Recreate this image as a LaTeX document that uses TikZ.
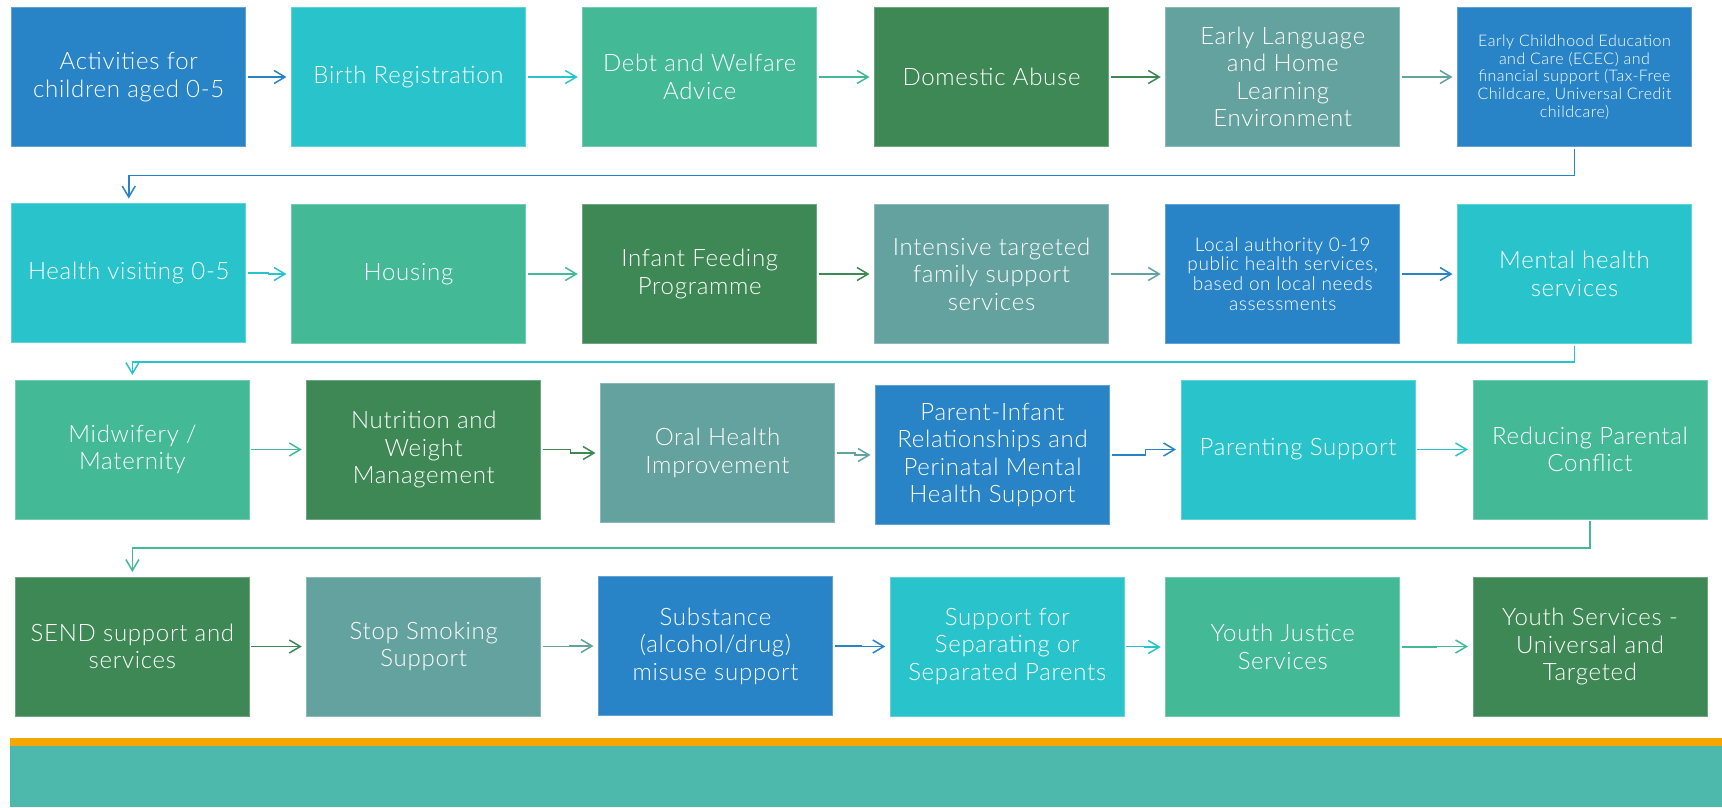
\documentclass[tikz,border=0pt]{standalone}
\usepackage{fontspec}
\setmainfont{Lato}[UprightFont=* Light, LetterSpace=3]
\usetikzlibrary{arrows.meta,calc}

\definecolor{cBlue}{HTML}{2884C6}
\definecolor{cCyan}{HTML}{29C4CB}
\definecolor{cLgreen}{HTML}{44B996}
\definecolor{cDgreen}{HTML}{3E8855}
\definecolor{cGteal}{HTML}{64A29F}
\definecolor{cOrange}{HTML}{F5A700}
\definecolor{cBand}{HTML}{4CB9AC}

\tikzset{
  svcbox/.style={rectangle, fill=#1, draw=#1!75!white, line width=0.8pt,
    minimum width=234pt, minimum height=139pt, inner sep=3pt, outer sep=0pt,
    text=white, align=center, font=\fontsize{24}{27.5}\selectfont},
  smalltext/.style={font=\fontsize{16}{17.7}\selectfont},
  midtext/.style={font=\fontsize{19}{19.7}\selectfont},
  flow/.style={draw=#1, line width=1.5pt,
    -{Straight Barb[length=11pt,width=13pt,line width=1.5pt]},
    shorten <=2pt, shorten >=5pt},
}

\newcommand{\jog}[3]{\draw[flow=#1] (#2.east) -| ($(#2.east)!.5!(#3.west)$) |- (#3.west);}

\begin{document}
\begin{tikzpicture}[x=1pt,y=-1pt]
\useasboundingbox (0,0) rectangle (1722,807);
\fill[white] (0,0) rectangle (1722,807);

% row 1
\node[svcbox=cBlue]   (a1) at (128.75,77) {Activities for\\children aged 0-5};
\node[svcbox=cCyan]   (a2) at (408.5,77)  {Birth Registration};
\node[svcbox=cLgreen] (a3) at (699.75,77) {Debt and Welfare\\Advice};
\node[svcbox=cDgreen] (a4) at (991.5,77)  {Domestic Abuse};
\node[svcbox=cGteal]  (a5) at (1282.75,77) {Early Language\\and Home\\Learning\\Environment};
\node[svcbox=cBlue, smalltext] (a6) at (1574.5,77) {Early Childhood Education\\and Care (ECEC) and\\financial support (Tax-Free\\Childcare, Universal Credit\\childcare)};

% row 2
\node[svcbox=cCyan]   (b1) at (128.75,273) {Health visiting 0-5};
\node[svcbox=cLgreen] (b2) at (408.5,274)  {Housing};
\node[svcbox=cDgreen] (b3) at (699.75,274) {Infant Feeding\\Programme};
\node[svcbox=cGteal]  (b4) at (991.5,274)  {Intensive targeted\\family support\\services};
\node[svcbox=cBlue, midtext] (b5) at (1282.75,274) {Local authority 0-19\\public health services,\\based on local needs\\assessments};
\node[svcbox=cCyan]   (b6) at (1574.5,274) {Mental health\\services};

% row 3
\node[svcbox=cLgreen] (c1) at (132.4,449.5) {Midwifery /\\Maternity};
\node[svcbox=cDgreen] (c2) at (423.75,449.5) {Nutrition and\\Weight\\Management};
\node[svcbox=cGteal]  (c3) at (717.5,453)   {Oral Health\\Improvement};
\node[svcbox=cBlue]   (c4) at (992.5,455)   {Parent-Infant\\Relationships and\\Perinatal Mental\\Health Support};
\node[svcbox=cCyan]   (c5) at (1298,449.5)  {Parenting Support};
\node[svcbox=cLgreen] (c6) at (1590,449.5)  {Reducing Parental\\Conflict};

% row 4
\node[svcbox=cDgreen] (d1) at (132.4,646.5) {SEND support and\\services};
\node[svcbox=cGteal]  (d2) at (423.75,646.5) {Stop Smoking\\Support};
\node[svcbox=cBlue]   (d3) at (715.5,646)   {Substance\\(alcohol/drug)\\misuse support};
\node[svcbox=cCyan]   (d4) at (1007.25,646.5) {Support for\\Separating or\\Separated Parents};
\node[svcbox=cLgreen] (d5) at (1282.75,647)  {Youth Justice\\Services};
\node[svcbox=cDgreen] (d6) at (1590,646.5)   {Youth Services -\\Universal and\\Targeted};

% arrows within rows
\jog{cBlue}{a1}{a2}
\jog{cCyan}{a2}{a3}
\jog{cLgreen}{a3}{a4}
\jog{cDgreen}{a4}{a5}
\jog{cGteal}{a5}{a6}

\jog{cCyan}{b1}{b2}
\jog{cLgreen}{b2}{b3}
\jog{cDgreen}{b3}{b4}
\jog{cGteal}{b4}{b5}
\jog{cBlue}{b5}{b6}

\jog{cLgreen}{c1}{c2}
\jog{cDgreen}{c2}{c3}
\jog{cGteal}{c3}{c4}
\jog{cBlue}{c4}{c5}
\jog{cCyan}{c5}{c6}

\jog{cDgreen}{d1}{d2}
\jog{cGteal}{d2}{d3}
\jog{cBlue}{d3}{d4}
\jog{cCyan}{d4}{d5}
\jog{cLgreen}{d5}{d6}

% row-to-row returns
\draw[flow=cBlue]   (a6.south) -- ++(0,29)   -| (b1.north);
\draw[flow=cCyan]   (b6.south) -- ++(0,18.7) -| (c1.north);
\draw[flow=cLgreen] (c6.south) -- ++(0,29)   -| (d1.north);

% footer band
\fill[cOrange] (10,738) rectangle (1722,746);
\fill[cBand]   (10,746) rectangle (1722,807);
\end{tikzpicture}
\end{document}
